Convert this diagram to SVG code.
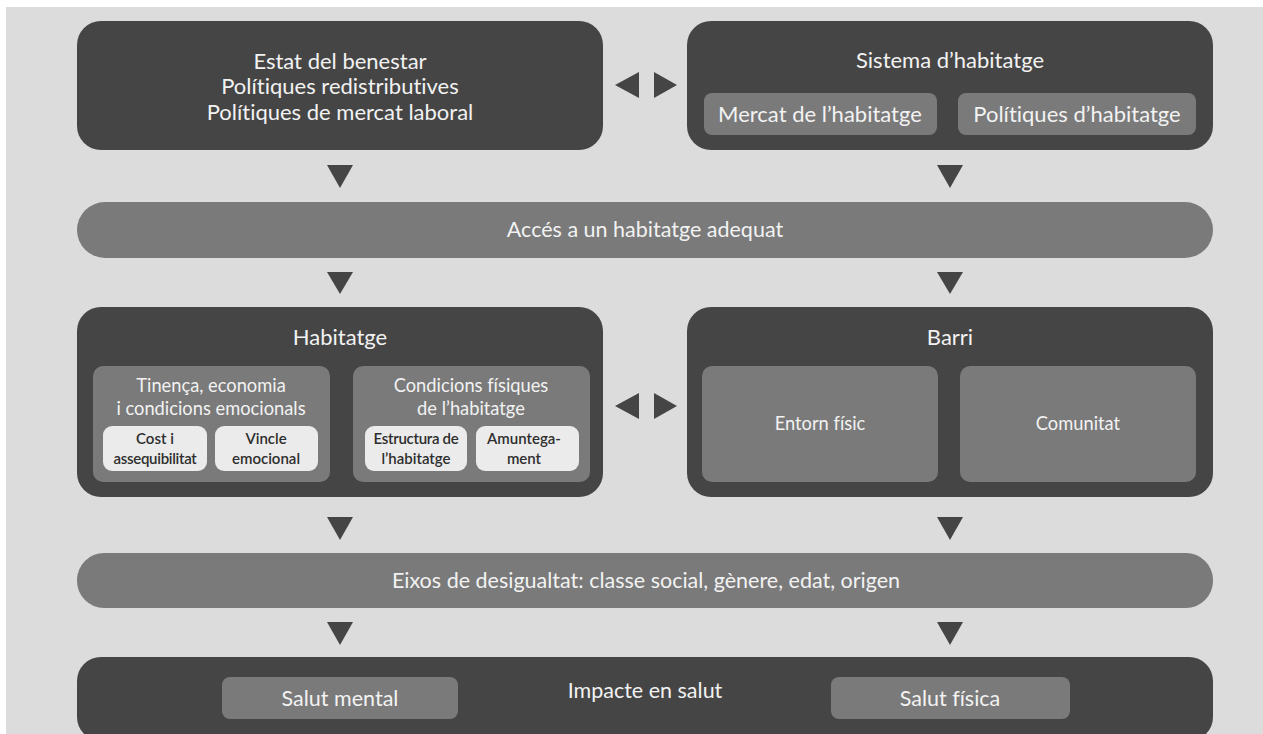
<svg xmlns="http://www.w3.org/2000/svg" width="1263" height="734" viewBox="0 0 1263 734">
<style>
.dark{fill:#454545}
.mid{fill:#7a7a7a}
.light{fill:#ebebeb}
.t{font-family:Lato,"Noto Sans","Liberation Sans",sans-serif;fill:#f2f2f2;text-anchor:middle;font-variant-ligatures:none}
.d{font-family:Lato,"Noto Sans","Liberation Sans",sans-serif;fill:#2e2e2e;text-anchor:middle;font-size:15px;font-weight:600;font-variant-ligatures:none}
.arr{fill:#454545}
</style>
<rect x="0" y="0" width="1263" height="734" fill="#ffffff"/>
<rect x="6" y="7" width="1257" height="727" fill="#dcdcdc"/>

<g id="estat">
<rect class="dark" x="77" y="21" width="526" height="129" rx="24"/>
<text class="t" font-size="22" x="340" y="69">Estat del benestar</text>
<text class="t" font-size="22" x="340" y="94">Polítiques redistributives</text>
<text class="t" font-size="22" x="340" y="120">Polítiques de mercat laboral</text>
</g>

<g id="sistema">
<rect class="dark" x="687" y="21" width="526" height="129" rx="24"/>
<text class="t" font-size="22" x="950" y="68">Sistema d’habitatge</text>
<rect class="mid" x="704" y="93" width="233" height="42" rx="8"/>
<text class="t" font-size="22" x="820" y="122">Mercat de l’habitatge</text>
<rect class="mid" x="958" y="93" width="238" height="42" rx="8"/>
<text class="t" font-size="22" x="1077" y="122">Polítiques d’habitatge</text>
</g>

<g id="acces">
<rect class="mid" x="77" y="202" width="1136" height="56" rx="28"/>
<text class="t" font-size="21.5" x="645" y="237">Accés a un habitatge adequat</text>
</g>

<g id="habitatge">
<rect class="dark" x="77" y="307" width="526" height="190" rx="24"/>
<text class="t" font-size="22" x="340" y="345">Habitatge</text>
<rect class="mid" x="93" y="366" width="237" height="116" rx="10"/>
<text class="t" font-size="18.3" x="211" y="392">Tinença, economia</text>
<text class="t" font-size="18.3" x="211" y="415">i condicions emocionals</text>
<rect class="light" x="103" y="426" width="104" height="45" rx="9"/>
<text class="d" x="155" y="444">Cost i</text>
<text class="d" x="155" y="464" letter-spacing="-0.3">assequibilitat</text>
<rect class="light" x="215" y="426" width="103" height="45" rx="9"/>
<text class="d" x="266" y="444">Vincle</text>
<text class="d" x="266" y="464">emocional</text>
<rect class="mid" x="353" y="366" width="237" height="116" rx="10"/>
<text class="t" font-size="18.3" x="471" y="392">Condicions físiques</text>
<text class="t" font-size="18.3" x="471" y="415">de l’habitatge</text>
<rect class="light" x="365" y="426" width="102" height="45" rx="9"/>
<text class="d" x="416" y="444" letter-spacing="-0.3">Estructura de</text>
<text class="d" x="416" y="464">l’habitatge</text>
<rect class="light" x="476" y="426" width="103" height="45" rx="9"/>
<text class="d" x="524" y="444">Amuntega-</text>
<text class="d" x="524" y="464">ment</text>
</g>

<g id="barri">
<rect class="dark" x="687" y="307" width="526" height="190" rx="24"/>
<text class="t" font-size="22" x="950" y="345">Barri</text>
<rect class="mid" x="702" y="366" width="236" height="116" rx="10"/>
<text class="t" font-size="18.3" x="820" y="430">Entorn físic</text>
<rect class="mid" x="960" y="366" width="236" height="116" rx="10"/>
<text class="t" font-size="18.3" x="1078" y="430">Comunitat</text>
</g>

<g id="eixos">
<rect class="mid" x="77" y="553" width="1136" height="55" rx="27"/>
<text class="t" font-size="21.5" x="646" y="588">Eixos de desigualtat: classe social, gènere, edat, origen</text>
</g>

<g id="impacte">
<rect class="dark" x="77" y="657" width="1136" height="84" rx="24"/>
<rect class="mid" x="222" y="677" width="236" height="42" rx="8"/>
<text class="t" font-size="21.5" x="340" y="706">Salut mental</text>
<text class="t" font-size="21.5" x="645" y="698">Impacte en salut</text>
<rect class="mid" x="831" y="677" width="239" height="42" rx="8"/>
<text class="t" font-size="21.5" x="950" y="706">Salut física</text>
</g>

<g id="connectors">
<polygon class="arr" points="615,85 639,72 639,98"/>
<polygon class="arr" points="654,72 654,98 677,85"/>
<polygon class="arr" points="615,406 639,393 639,419"/>
<polygon class="arr" points="654,393 654,419 677,406"/>
<polygon class="arr" points="327,165 353,165 340,188"/>
<polygon class="arr" points="937,165 963,165 950,188"/>
<polygon class="arr" points="327,272 353,272 340,294"/>
<polygon class="arr" points="937,272 963,272 950,294"/>
<polygon class="arr" points="327,517 353,517 340,540"/>
<polygon class="arr" points="937,517 963,517 950,540"/>
<polygon class="arr" points="327,622 353,622 340,645"/>
<polygon class="arr" points="937,622 963,622 950,645"/>
</g>
</svg>
